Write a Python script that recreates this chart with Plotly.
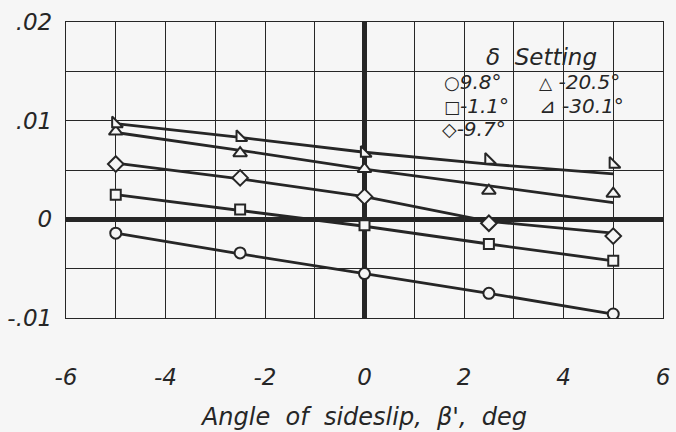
import plotly.graph_objects as go

# ---- data ----
beta = [-5, -2.5, 0, 2.5, 5]

settings = ["9.8°", "-1.1°", "-9.7°", "-20.5°", "-30.1°"]

pts_9p8 = [-0.0014, -0.0034, -0.0055, -0.0075, -0.0096]
pts_m1p1 = [0.0025, 0.0010, -0.0006, -0.0025, -0.0042]
pts_m9p7 = [0.0056, 0.0042, 0.0023, -0.0004, -0.0017]
pts_m20p5 = [0.0089, 0.0067, 0.0051, 0.0029, 0.0026]
pts_m30p1 = [0.0097, 0.0083, 0.0067, 0.0060, 0.0056]

fair_9p8 = [-0.0014, -0.0035, -0.0055, -0.0075, -0.0096]
fair_m1p1 = [0.0025, 0.0009, -0.0007, -0.0025, -0.0042]
fair_m9p7 = [0.0057, 0.0041, 0.0023, -0.0002, -0.0014]
fair_m20p5 = [0.0088, 0.0070, 0.0051, 0.0034, 0.0017]
fair_m30p1 = [0.0097, 0.0083, 0.0068, 0.0056, 0.0046]

x_ticks = [-6, -4, -2, 0, 2, 4, 6]
y_ticks = [0.02, 0.01, 0, -0.01]
y_tick_text = [".02", ".01", "0", "-.01"]

BG = "#f6f6f6"
INK = "#262626"
FONT = "DejaVu Sans"
NB = "\u00a0"

series = [
    (pts_9p8, fair_9p8, "circle", 11),
    (pts_m1p1, fair_m1p1, "square", 10),
    (pts_m9p7, fair_m9p7, "diamond", 12),
    (pts_m20p5, fair_m20p5, "triangle-up", 12),
    (pts_m30p1, fair_m30p1, "triangle-sw", 12),
]

fig = go.Figure()

for (pts, fair, sym, size), name in zip(series, settings):
    fig.add_trace(go.Scatter(x=beta, y=fair, mode="lines",
                             line=dict(color=INK, width=2.8),
                             showlegend=False, hoverinfo="skip"))
for (pts, fair, sym, size), name in zip(series, settings):
    fig.add_trace(go.Scatter(x=beta, y=pts, mode="markers", name=name,
                             marker=dict(symbol=sym, size=size, color=BG,
                                         line=dict(color=INK, width=2)),
                             showlegend=False))

# box behind the key (covers grid lines)
fig.add_shape(type="rect", xref="paper", yref="paper",
              x0=(428 - 66) / 597, x1=(651 - 66) / 597,
              y0=(318 - 143) / 296, y1=(318 - 29) / 296,
              fillcolor=BG, line=dict(width=0), layer="between")

def px(xp, yp):
    return (xp - 66) / 597, (318 - yp) / 296

key_font = dict(family=FONT, size=20, color=INK)

def sym(ch, size):
    return f'<span style="font-size:{size}px">{ch}</span>'

key_items = [
    (f'<span style="font-size:23px"><i>δ{NB}{NB}Setting</i></span>', 541, 57, "center"),
    (sym("○", 18) + "<i>9.8°</i>", 442, 82, "left"),
    (sym("△", 17) + f"<i>{NB}-20.5°</i>", 537, 82, "left"),
    (sym("□", 17) + "<i>-1.1°</i>", 442, 106, "left"),
    (sym("⊿", 20) + f"<i>{NB}-30.1°</i>", 537, 106, "left"),
    (sym("◇", 19) + "<i>-9.7°</i>", 440, 129, "left"),
]
for txt, xp, yp, anc in key_items:
    xx, yy = px(xp, yp)
    fig.add_annotation(text=txt, x=xx, y=yy, xref="paper", yref="paper",
                       xanchor=anc, yanchor="middle", showarrow=False,
                       font=key_font)

title_txt = f"{NB}{NB}".join(["Angle", "of", "sideslip,", "β',", "deg"])

fig.update_xaxes(range=[-6, 6], showgrid=True, automargin=False,
                 gridcolor=INK, gridwidth=1.3,
                 zeroline=True, zerolinecolor=INK, zerolinewidth=4.5,
                 showline=True, linecolor=INK, linewidth=1.3, mirror=True,
                 tickmode="array", tickvals=x_ticks,
                 ticktext=[f"<i>{v}</i>" for v in x_ticks],
                 ticks="", ticklabelstandoff=38,
                 tickfont=dict(family=FONT, size=23, color=INK),
                 title=dict(text=f"<i>{title_txt}</i>",
                            font=dict(family=FONT, size=24, color=INK),
                            standoff=19),
                 minor=dict(dtick=1, tick0=0, showgrid=True,
                            gridcolor=INK, gridwidth=1.3))
fig.update_yaxes(range=[-0.01, 0.02], showgrid=True, automargin=False,
                 gridcolor=INK, gridwidth=1.3,
                 zeroline=True, zerolinecolor=INK, zerolinewidth=4.5,
                 showline=True, linecolor=INK, linewidth=1.3, mirror=True,
                 tickmode="array", tickvals=y_ticks,
                 ticktext=[f"<i>{t}</i>" for t in y_tick_text],
                 ticks="", ticklabelstandoff=8,
                 tickfont=dict(family=FONT, size=23, color=INK),
                 minor=dict(dtick=0.005, tick0=0, showgrid=True,
                            gridcolor=INK, gridwidth=1.3))

fig.update_layout(width=676, height=432,
                  margin=dict(l=66, r=13, t=22, b=114),
                  paper_bgcolor=BG, plot_bgcolor=BG,
                  showlegend=False)

fig.write_html("out.html")
